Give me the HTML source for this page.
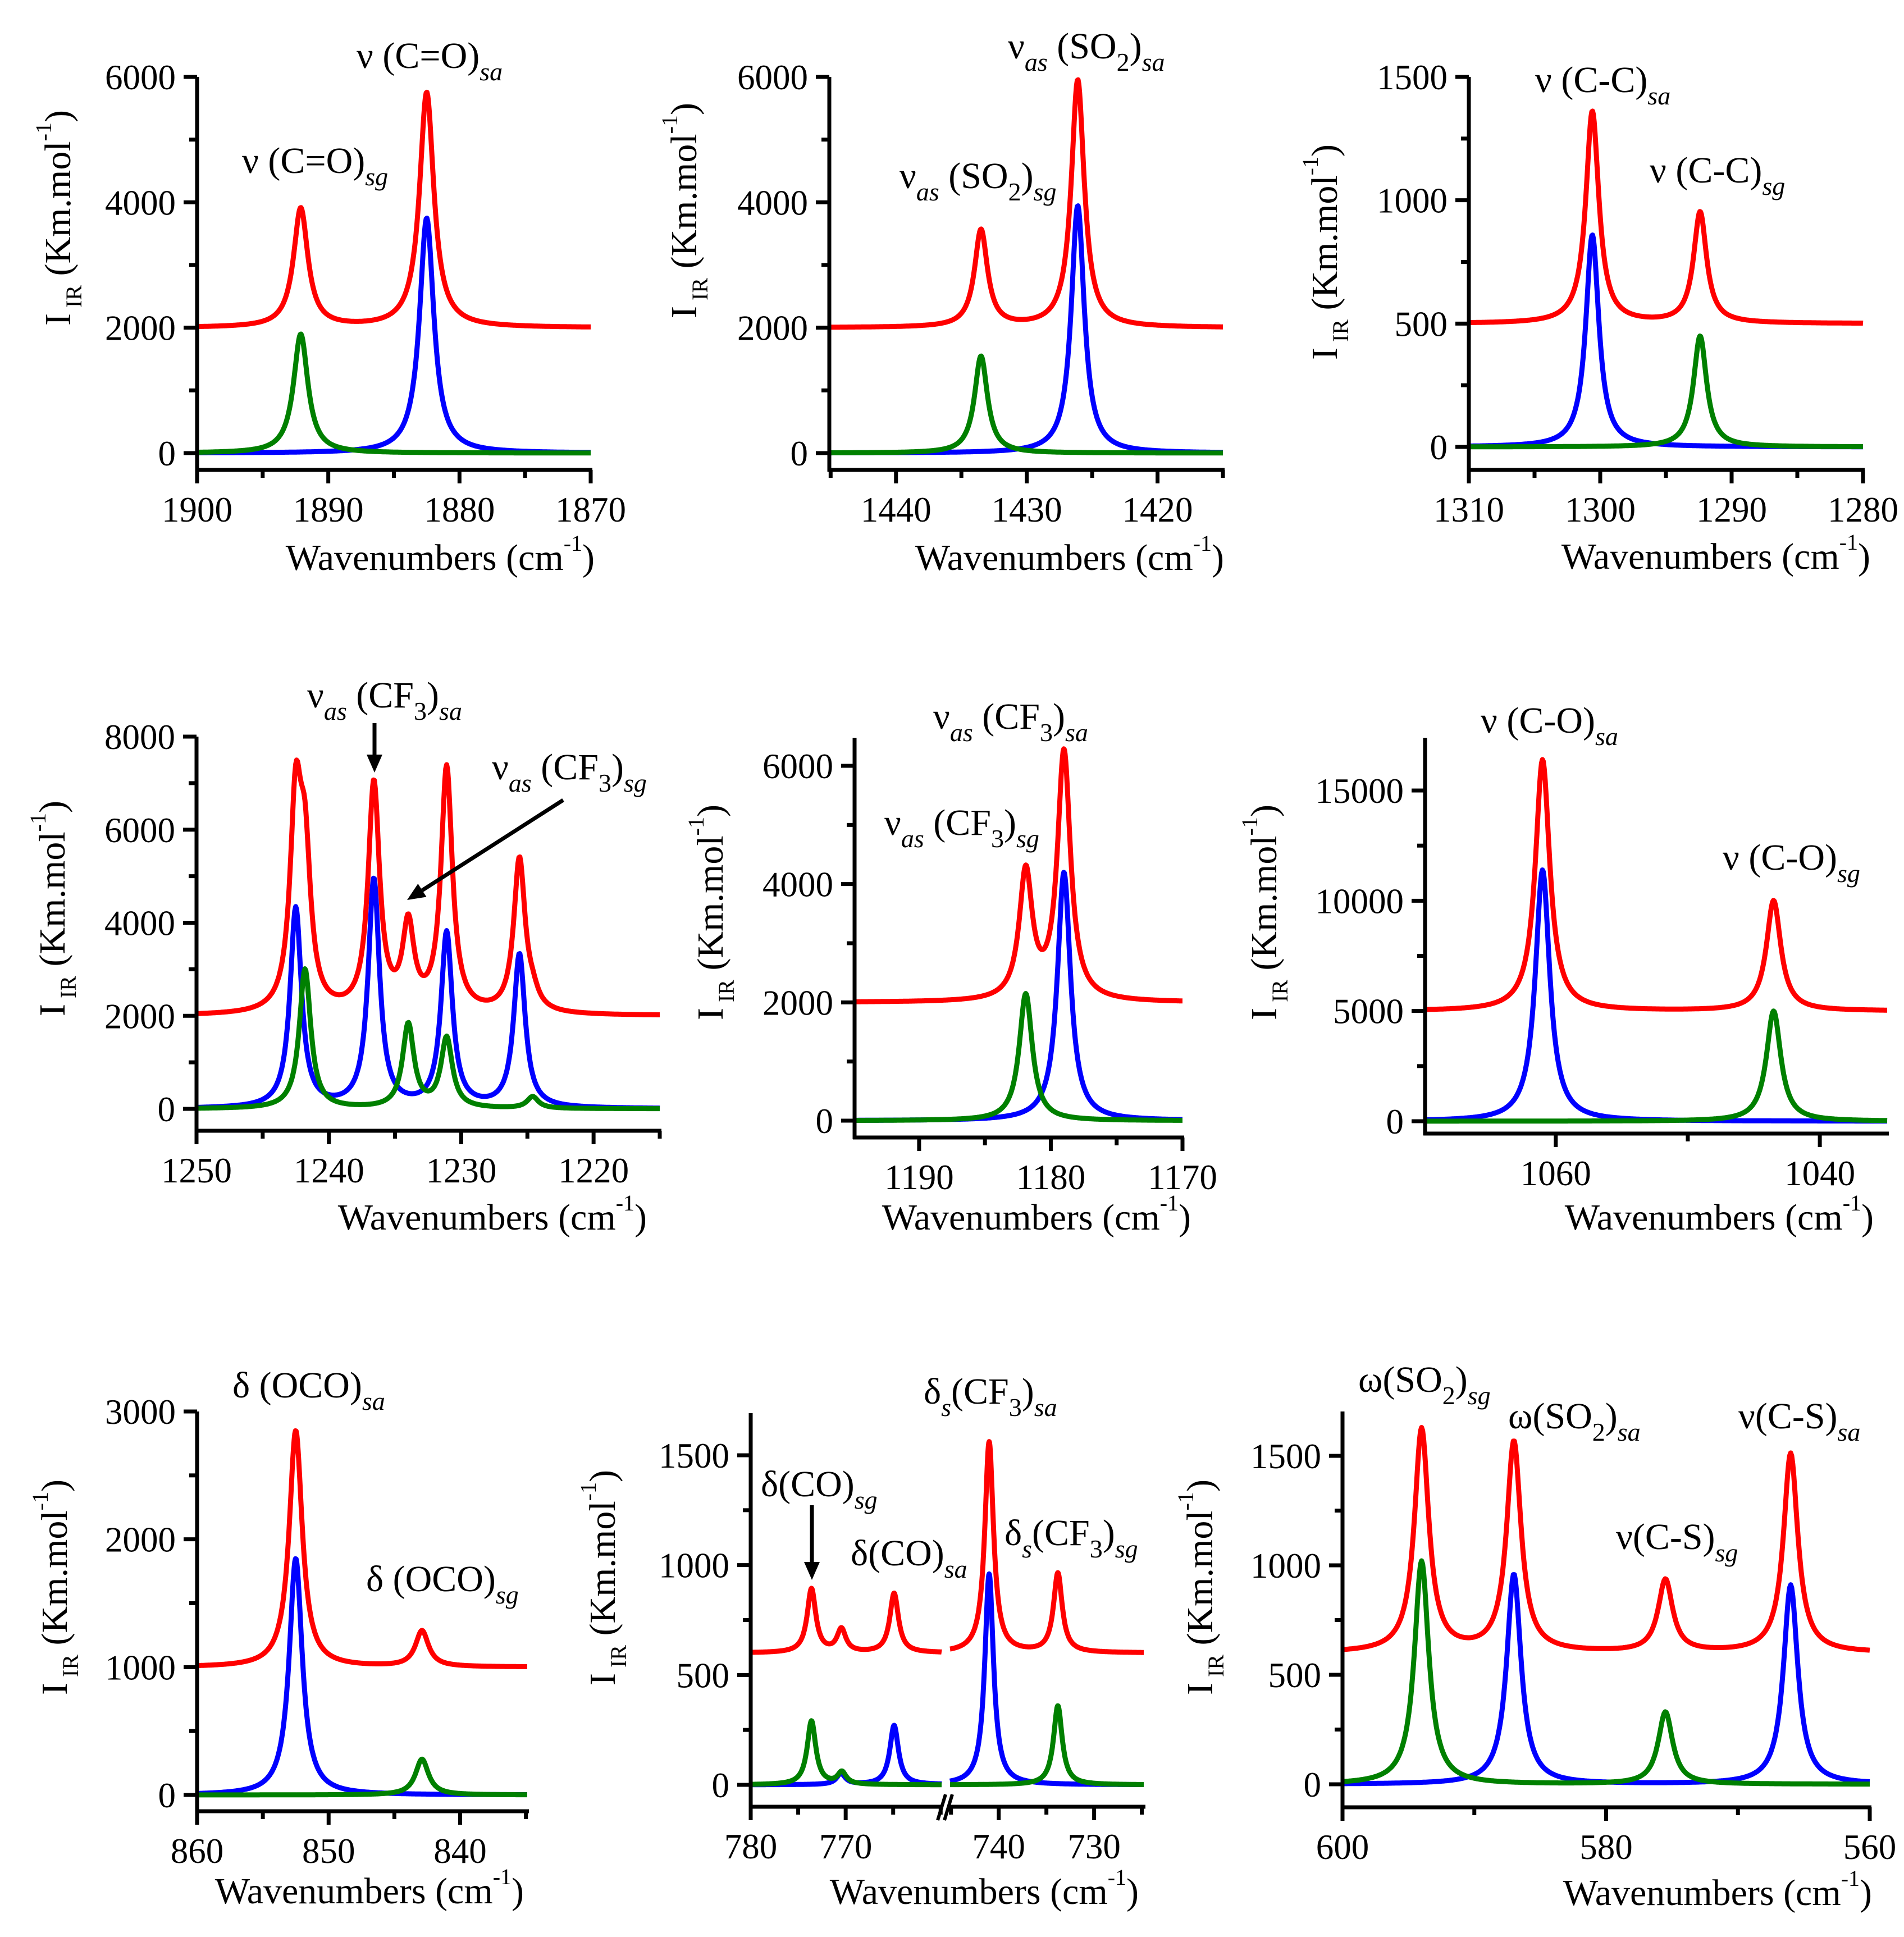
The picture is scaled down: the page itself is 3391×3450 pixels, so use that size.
<!DOCTYPE html>
<html><head><meta charset="utf-8"><title>IR spectra panels</title>
<style>
html,body{margin:0;padding:0;background:#fff;}
svg{display:block;}
text{font-family:"Liberation Serif",serif;fill:#000;}
</style></head>
<body>
<svg id="chart" xmlns="http://www.w3.org/2000/svg" width="3391" height="3450" viewBox="0 0 3391 3450"></svg>
<script>
// ---- data: peak positions (cm-1) and intensities (Km/mol) ----
const p1BluePos=[1882.5], p1BlueInt=[3750], p1GreenPos=[1892.1], p1GreenInt=[1900], p1RedOffset=2000;
const p2BluePos=[1426.1], p2BlueInt=[3950], p2GreenPos=[1433.5], p2GreenInt=[1550], p2RedOffset=2000;
const p3BluePos=[1300.6], p3BlueInt=[860], p3GreenPos=[1292.4], p3GreenInt=[450], p3RedOffset=500;
const p4BluePos=[1242.5,1236.6,1231.1,1225.6], p4BlueInt=[4300,4900,3750,3300];
const p4GreenPos=[1241.8,1234.0,1231.1,1224.6], p4GreenInt=[3000,1800,1500,250], p4RedOffset=2000;
const p5BluePos=[1179.0], p5BlueInt=[4200], p5GreenPos=[1181.9], p5GreenInt=[2150], p5RedOffset=2000;
const p6BluePos=[1061.0], p6BlueInt=[11400], p6GreenPos=[1043.5], p6GreenInt=[5000], p6RedOffset=5000;
const p7BluePos=[852.5], p7BlueInt=[1850], p7GreenPos=[842.9], p7GreenInt=[280], p7RedOffset=1000;
const p8BluePos=[770.5,764.9,741.0], p8BlueInt=[50,270,960];
const p8GreenPos=[773.6,770.4,733.8], p8GreenInt=[290,55,360], p8RedOffset=600;
const p9BluePos=[587.0,566.0], p9BlueInt=[960,910];
const p9GreenPos=[594.0,575.5], p9GreenInt=[1020,330], p9RedOffset=600;

const yTicks1=[0,2000,4000,6000], xTicks1=[1900,1890,1880,1870];
const yTicks2=[0,2000,4000,6000], xTicks2=[1440,1430,1420];
const yTicks3=[0,500,1000,1500], xTicks3=[1310,1300,1290,1280];
const yTicks4=[0,2000,4000,6000,8000], xTicks4=[1250,1240,1230,1220];
const yTicks5=[0,2000,4000,6000], xTicks5=[1190,1180,1170];
const yTicks6=[0,5000,10000,15000], xTicks6=[1060,1040];
const yTicks7=[0,1000,2000,3000], xTicks7=[860,850,840];
const yTicks8=[0,500,1000,1500], xTicks8=[780,770,740,730];
const yTicks9=[0,500,1000,1500], xTicks9=[600,580,560];

const NS='http://www.w3.org/2000/svg';
const svg=document.getElementById('chart');
function mk(tag,parent){const e=document.createElementNS(NS,tag);parent.appendChild(e);return e;}
function lor(pos,ints,g,x){let s=0;for(let i=0;i<pos.length;i++){const u=(x-pos[i])/g;s+=ints[i]/(1+u*u);}return s;}

const panels=[
 {n:1,bp:p1BluePos,bi:p1BlueInt,gp:p1GreenPos,gi:p1GreenInt,off:p1RedOffset,yT:yTicks1,xT:xTicks1,
  segs:[{d:[1900,1870],p:[351,1052]}],y0:807,yRV:6000,yRP:137,yTop:137,yMin:1000,xAY:837,xMin:5,g:0.66,yt:[125,388],xt:[1059,1015]},
 {n:2,bp:p2BluePos,bi:p2BlueInt,gp:p2GreenPos,gi:p2GreenInt,off:p2RedOffset,yT:yTicks2,xT:xTicks2,
  segs:[{d:[1445.1,1415.0],p:[1477,2178]}],y0:807,yRV:6000,yRP:137,yTop:137,yMin:1000,xAY:837,xMin:5,g:0.6,yt:[1240,375],xt:[2180,1015]},
 {n:3,bp:p3BluePos,bi:p3BlueInt,gp:p3GreenPos,gi:p3GreenInt,off:p3RedOffset,yT:yTicks3,xT:xTicks3,
  segs:[{d:[1310,1280],p:[2616,3318]}],y0:796,yRV:1500,yRP:137,yTop:137,yMin:250,xAY:837,xMin:5,g:0.6,yt:[2381,449],xt:[3331,1013]},
 {n:4,bp:p4BluePos,bi:p4BlueInt,gp:p4GreenPos,gi:p4GreenInt,off:p4RedOffset,yT:yTicks4,xT:xTicks4,
  segs:[{d:[1250,1215],p:[350,1175]}],y0:1975,yRV:8000,yRP:1312,yTop:1312,yMin:1000,xAY:2014,xMin:5,g:0.52,yt:[115,1618],xt:[1152,2190]},
 {n:5,bp:p5BluePos,bi:p5BlueInt,gp:p5GreenPos,gi:p5GreenInt,off:p5RedOffset,yT:yTicks5,xT:xTicks5,
  segs:[{d:[1194.9,1170],p:[1522,2106]}],y0:1996,yRV:6000,yRP:1364,yTop:1314,yMin:1000,xAY:2026,xMin:5,g:0.6,yt:[1287,1625],xt:[2121,2190]},
 {n:6,bp:p6BluePos,bi:p6BlueInt,gp:p6GreenPos,gi:p6GreenInt,off:p6RedOffset,yT:yTicks6,xT:xTicks6,
  segs:[{d:[1069.9,1034.9],p:[2538,3361]}],y0:1997,yRV:15000,yRP:1408,yTop:1314,yMin:2500,xAY:2019,xMin:10,g:0.66,yt:[2273,1625],xt:[3337,2190]},
 {n:7,bp:p7BluePos,bi:p7BlueInt,gp:p7GreenPos,gi:p7GreenInt,off:p7RedOffset,yT:yTicks7,xT:xTicks7,
  segs:[{d:[860,834.9],p:[351,939]}],y0:3197,yRV:3000,yRP:2514,yTop:2514,yMin:500,xAY:3226,xMin:5,g:0.6,yt:[119,2827],xt:[933,3390]},
 {n:8,bp:p8BluePos,bi:p8BlueInt,gp:p8GreenPos,gi:p8GreenInt,off:p8RedOffset,yT:yTicks8,xT:xTicks8,
  segs:[{d:[780,759.9],p:[1337,1677]},{d:[745.1,724.8],p:[1692,2037]}],y0:3179,yRV:1500,yRP:2592,yTop:2517,yMin:250,xAY:3218,xMin:5,g:0.55,yt:[1095,2810],xt:[2028,3391]},
 {n:9,bp:p9BluePos,bi:p9BlueInt,gp:p9GreenPos,gi:p9GreenInt,off:p9RedOffset,yT:yTicks9,xT:xTicks9,
  segs:[{d:[600,560],p:[2391,3330]}],y0:3178,yRV:1500,yRP:2593,yTop:2514,yMin:250,xAY:3219,xMin:10,g:0.66,yt:[2159,2827],xt:[3334,3393]}
];

function drawPanel(c){
  const grp=mk('g',svg);
  
  
  const ys=v=>c.y0-(c.y0-c.yRP)*v/c.yRV;
  const segX=(s,v)=>s.p[0]+(v-s.d[0])/(s.d[1]-s.d[0])*(s.p[1]-s.p[0]);
  const ax=c.segs[0].p[0];
  const series=[['red','#ff0000'],['blue','#0000ff'],['green','#008000']];
  series.forEach(([nm,col])=>{
    c.segs.forEach((s,si)=>{
      let d='';const N=500;
      for(let k=0;k<=N;k++){
        const v=s.d[0]+(s.d[1]-s.d[0])*k/N;
        let y;
        if(nm==='blue') y=lor(c.bp,c.bi,c.g,v);
        else if(nm==='green') y=lor(c.gp,c.gi,c.g,v);
        else y=c.off+lor(c.bp,c.bi,c.g,v)+lor(c.gp,c.gi,c.g,v);
        d+=(k?'L':'M')+segX(s,v).toFixed(1)+' '+ys(y).toFixed(1);
      }
      const p=mk('path',grp);
      
      
      p.setAttribute('d',d);p.setAttribute('fill','none');p.setAttribute('stroke',col);
      p.setAttribute('stroke-width','9');p.setAttribute('stroke-linejoin','round');
    });
  });
  const ya=mk('line',grp);
  
  
  ya.setAttribute('x1',ax);ya.setAttribute('x2',ax);ya.setAttribute('y1',c.xAY+3);ya.setAttribute('y2',c.yTop);
  ya.setAttribute('stroke','#000');ya.setAttribute('stroke-width','7');
  const topVal=(c.y0-c.yTop)/(c.y0-c.yRP)*c.yRV;
  for(let v=0;v<=topVal+1;v+=c.yMin){
    const major=c.yT.indexOf(v)>=0;
    const t=mk('line',grp);
    
    
    t.setAttribute('x1',ax);t.setAttribute('x2',ax-(major?24:14));t.setAttribute('y1',ys(v));t.setAttribute('y2',ys(v));
    t.setAttribute('stroke','#000');t.setAttribute('stroke-width','7');
  }
  c.yT.forEach(v=>{
    const t=mk('text',grp);
    
    
    t.setAttribute('x',ax-38);t.setAttribute('y',ys(v)+22);t.setAttribute('text-anchor','end');t.setAttribute('font-size','63');
    t.textContent=String(v);
  });
  c.segs.forEach((s,si)=>{
    const xa=mk('line',grp);
    
    
    xa.setAttribute('x1',s.p[0]-3);xa.setAttribute('x2',s.p[1]+3);xa.setAttribute('y1',c.xAY);xa.setAttribute('y2',c.xAY);
    xa.setAttribute('stroke','#000');xa.setAttribute('stroke-width','7');
    const lo=Math.min(s.d[0],s.d[1]),hi=Math.max(s.d[0],s.d[1]);
    for(let v=Math.ceil(lo/c.xMin)*c.xMin;v<=hi+0.01;v+=c.xMin){
      const major=c.xT.indexOf(v)>=0;
      const t=mk('line',grp);
      
      
      const px=segX(s,v);
      t.setAttribute('x1',px);t.setAttribute('x2',px);t.setAttribute('y1',c.xAY);t.setAttribute('y2',c.xAY+(major?24:14));
      t.setAttribute('stroke','#000');t.setAttribute('stroke-width','7');
    }
    c.xT.forEach(v=>{
      if(v<lo-0.01||v>hi+0.01) return;
      const t=mk('text',grp);
      
      
      t.setAttribute('x',segX(s,v));t.setAttribute('y',c.xAY+92);t.setAttribute('text-anchor','middle');t.setAttribute('font-size','63');
      t.textContent=String(v);
    });
  });
  const xt=mk('text',grp);
  
  
  xt.setAttribute('x',c.xt[0]);xt.setAttribute('y',c.xt[1]);xt.setAttribute('text-anchor','end');xt.setAttribute('font-size','66');
  xt.innerHTML='Wavenumbers (cm<tspan font-size="40" dy="-34">-1</tspan><tspan dy="34">)</tspan>';
  const yt=mk('text',grp);
  
  
  yt.setAttribute('transform','translate('+c.yt[0]+','+c.yt[1]+') rotate(-90)');
  yt.setAttribute('text-anchor','middle');yt.setAttribute('font-size','66');
  yt.innerHTML='I<tspan font-size="40" dy="20"> IR</tspan><tspan dy="-20"> (Km.mol</tspan><tspan font-size="40" dy="-34">-1</tspan><tspan dy="34">)</tspan>';
}
panels.forEach(drawPanel);

const brk=mk('path',svg);


brk.setAttribute('d','M1670 3242 L1684 3196 M1682 3242 L1696 3196');
brk.setAttribute('stroke','#000');brk.setAttribute('stroke-width','6');brk.setAttribute('fill','none');

function ann(name,x,y,parts){
  const t=mk('text',svg);
  
  
  t.setAttribute('x',x);t.setAttribute('y',y);t.setAttribute('font-size','66');
  let lvl=0;
  parts.forEach(([s,l,it])=>{
    const sp=mk('tspan',t);
    const off={0:0,1:22}[l];
    sp.setAttribute('dy',off-({0:0,1:22}[lvl]));
    if(l) sp.setAttribute('font-size','46');
    if(it) sp.setAttribute('font-style','italic');
    sp.textContent=s;lvl=l;
  });
}
ann('label-co-sa',635,121,[['ν (C=O)',0],['sa',1,1]]);
ann('label-co-sg',431,308,[['ν (C=O)',0],['sg',1,1]]);
ann('label-so2-sa',1795,104,[['ν',0],['as',1,1],[' (SO',0],['2',1],[')',0],['sa',1,1]]);
ann('label-so2-sg',1602,335,[['ν',0],['as',1,1],[' (SO',0],['2',1],[')',0],['sg',1,1]]);
ann('label-cc-sa',2734,164,[['ν (C-C)',0],['sa',1,1]]);
ann('label-cc-sg',2938,325,[['ν (C-C)',0],['sg',1,1]]);
ann('label-cf3-sa-p4',547,1260,[['ν',0],['as',1,1],[' (CF',0],['3',1],[')',0],['sa',1,1]]);
ann('label-cf3-sg-p4',876,1388,[['ν',0],['as',1,1],[' (CF',0],['3',1],[')',0],['sg',1,1]]);
ann('label-cf3-sa-p5',1662,1298,[['ν',0],['as',1,1],[' (CF',0],['3',1],[')',0],['sa',1,1]]);
ann('label-cf3-sg-p5',1575,1487,[['ν',0],['as',1,1],[' (CF',0],['3',1],[')',0],['sg',1,1]]);
ann('label-c-o-sa',2637,1305,[['ν (C-O)',0],['sa',1,1]]);
ann('label-c-o-sg',3068,1549,[['ν (C-O)',0],['sg',1,1]]);
ann('label-oco-sa',414,2489,[['δ (OCO)',0],['sa',1,1]]);
ann('label-oco-sg',652,2834,[['δ (OCO)',0],['sg',1,1]]);
ann('label-cf3-def-sa',1645,2500,[['δ',0],['s',1,1],['(CF',0],['3',1],[')',0],['sa',1,1]]);
ann('label-co-def-sg',1355,2665,[['δ(CO)',0],['sg',1,1]]);
ann('label-co-def-sa',1515,2788,[['δ(CO)',0],['sa',1,1]]);
ann('label-cf3-def-sg',1789,2752,[['δ',0],['s',1,1],['(CF',0],['3',1],[')',0],['sg',1,1]]);
ann('label-so2-wag-sg',2419,2479,[['ω(SO',0],['2',1],[')',0],['sg',1,1]]);
ann('label-so2-wag-sa',2686,2544,[['ω(SO',0],['2',1],[')',0],['sa',1,1]]);
ann('label-cs-sa',3096,2544,[['ν(C-S)',0],['sa',1,1]]);
ann('label-cs-sg',2878,2759,[['ν(C-S)',0],['sg',1,1]]);

function arrow(name,x1,y1,x2,y2){
  const g=mk('g',svg);
  
  
  const dx=x2-x1,dy=y2-y1,L=Math.hypot(dx,dy),ux=dx/L,uy=dy/L,h=32,w=14;
  const l=mk('line',g);
  
  
  l.setAttribute('x1',x1);l.setAttribute('y1',y1);l.setAttribute('x2',x2-ux*h);l.setAttribute('y2',y2-uy*h);
  l.setAttribute('stroke','#000');l.setAttribute('stroke-width','7');
  const bx=x2-ux*h,by=y2-uy*h;
  const pg=mk('polygon',g);
  
  
  pg.setAttribute('points',x2+','+y2+' '+(bx-uy*w)+','+(by+ux*w)+' '+(bx+uy*w)+','+(by-ux*w));
  pg.setAttribute('fill','#000');
}
arrow('arrow-cf3-sa',667,1288,667,1376);
arrow('arrow-cf3-sg',1003,1425,725,1603);
arrow('arrow-co-sg',1446,2681,1446,2814);
</script>
</body></html>
